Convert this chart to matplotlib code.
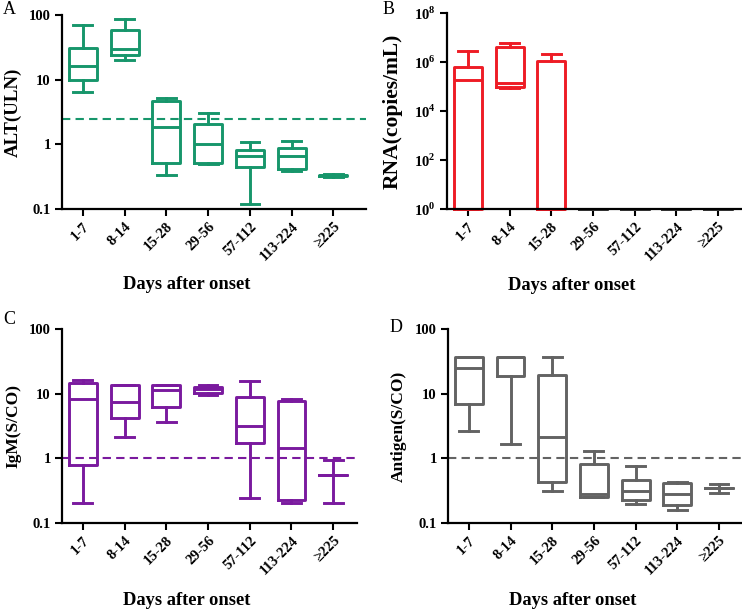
import matplotlib
matplotlib.use("Agg")
import matplotlib.pyplot as plt
from matplotlib.ticker import FixedLocator, NullLocator

plt.rcParams['font.family'] = ['Liberation Serif', 'DejaVu Serif']
plt.rcParams['mathtext.fontset'] = 'custom'
plt.rcParams['mathtext.rm'] = 'Liberation Serif:bold'
plt.rcParams['mathtext.bf'] = 'Liberation Serif:bold'

categories = ["1-7", "8-14", "15-28", "29-56", "57-112", "113-224", "≥225"]

# Panel A: ALT(ULN)
alt_whislo = [6.5, 20.2, 0.33, 0.50, 0.119, 0.39, 0.315]
alt_q1     = [9.8, 23.8, 0.51, 0.51, 0.44, 0.41, 0.32]
alt_med    = [16.5, 29.5, 1.85, 1.0, 0.65, 0.665, 0.33]
alt_q3     = [31.0, 58.7, 4.6, 2.07, 0.82, 0.87, 0.34]
alt_whishi = [70.0, 86.7, 5.2, 3.1, 1.1, 1.12, 0.345]
alt_cutoff = 2.5

# Panel B: RNA(copies/mL)
rna_whislo = [1, 8.7e4, 1, 1, 1, 1, 1]
rna_q1     = [1, 9.5e4, 1, 1, 1, 1, 1]
rna_med    = [1.9e5, 1.4e5, 1, 1, 1, 1, 1]
rna_q3     = [6.0e5, 4.1e6, 1.06e6, 1, 1, 1, 1]
rna_whishi = [2.7e6, 6.0e6, 2.2e6, 1, 1, 1, 1]

# Panel C: IgM(S/CO)
igm_whislo = [0.203, 2.17, 3.6, 9.7, 0.243, 0.203, 0.203]
igm_q1     = [0.785, 4.27, 6.3, 10.2, 1.72, 0.229, 0.557]
igm_med    = [8.4, 7.5, 11.4, 11.7, 3.18, 1.42, 0.557]
igm_q3     = [14.5, 13.6, 13.4, 12.9, 9.0, 7.7, 0.557]
igm_whishi = [16.3, 13.7, 13.6, 13.6, 15.7, 8.3, 0.93]
igm_cutoff = 1.0

# Panel D: Antigen(S/CO)
ag_whislo = [2.66, 1.68, 0.318, 0.25, 0.199, 0.157, 0.29]
ag_q1     = [6.95, 19.0, 0.424, 0.252, 0.223, 0.19, 0.342]
ag_med    = [25.3, 37.4, 2.12, 0.284, 0.318, 0.28, 0.342]
ag_q3     = [37.4, 37.4, 19.5, 0.824, 0.455, 0.415, 0.342]
ag_whishi = [37.4, 37.4, 37.0, 1.32, 0.767, 0.424, 0.40]
ag_cutoff = 1.0

GREEN = "#17966b"
RED = "#ee1c25"
PURPLE = "#7a1a9e"
GRAY = "#636363"

fig = plt.figure(figsize=(7.42, 6.10), dpi=100)


def make_stats(lo, q1, med, q3, hi):
    return [dict(whislo=a, q1=b, med=c, q3=d, whishi=e, fliers=[])
            for a, b, c, d, e in zip(lo, q1, med, q3, hi)]


def panel(rect, stats, colors, ylabel, ylabel_size, yticks, yticklabels, ylim,
          xmax, cutoff, cutoff_color, letter, letter_xy, ylab_x, xlab_xy):
    ax = fig.add_axes(rect)
    positions = list(range(1, len(categories) + 1))
    for pos, st, col in zip(positions, stats, colors):
        lw = 2.1
        art = ax.bxp([st], positions=[pos], widths=0.67, capwidths=[0.45],
                     showfliers=False, patch_artist=False,
                     boxprops=dict(color=col, linewidth=lw),
                     whiskerprops=dict(color=col, linewidth=lw),
                     capprops=dict(color=col, linewidth=lw),
                     medianprops=dict(color=col, linewidth=lw),
                     manage_ticks=False)
        for k in art:
            for a in art[k]:
                a.set_clip_on(False)
                a.set_zorder(2)
    ax.set_yscale('log')
    ax.set_ylim(*ylim)
    ax.set_xlim(0.5, xmax)
    ax.yaxis.set_major_locator(FixedLocator(yticks))
    ax.yaxis.set_minor_locator(NullLocator())
    ax.set_yticklabels(yticklabels, fontsize=10.5, fontweight='bold')
    ax.set_xticks(positions)
    ax.set_xticklabels(categories, rotation=45, ha='right',
                       rotation_mode='anchor', fontsize=10.5, fontweight='bold')
    ax.spines['top'].set_visible(False)
    ax.spines['right'].set_visible(False)
    for s in ('left', 'bottom'):
        ax.spines[s].set_linewidth(1.6)
        ax.spines[s].set_zorder(3)
    ax.tick_params(direction='out', length=5, width=1.5, pad=3)
    if cutoff is not None:
        ax.axhline(cutoff, color=cutoff_color, linestyle=(0, (4, 2.5)),
                   linewidth=1.5, zorder=1, clip_on=False)
    ax.set_ylabel(ylabel, fontsize=ylabel_size, fontweight='bold')
    ax.yaxis.set_label_coords(ylab_x, 0.5)
    ax.yaxis.label.set_va('center')
    ax.set_xlabel("Days after onset", fontsize=13.3, fontweight='bold')
    ax.xaxis.set_label_coords(*xlab_xy)
    ax.xaxis.label.set_va('center')
    fig.text(letter_xy[0], letter_xy[1], letter, fontsize=13,
             ha='left', va='center')
    return ax


W, H = 742.0, 610.0

panel([62 / W, 1 - 209 / H, 304 / W, 194 / H],
      make_stats(alt_whislo, alt_q1, alt_med, alt_q3, alt_whishi),
      [GREEN] * 7, "ALT(ULN)", 13.6, [0.1, 1, 10, 100],
      ["0.1", "1", "10", "100"],
      (0.1, 100), 7.78, alt_cutoff, GREEN, "A", (3 / W, 1 - 10 / H),
      -0.161, (0.41, -0.39))

rna_colors = [RED, RED, RED, "#3a3a3a", "#3a3a3a", "#3a3a3a", "#3a3a3a"]
panel([447 / W, 1 - 209 / H, 294 / W, 196 / H],
      make_stats(rna_whislo, rna_q1, rna_med, rna_q3, rna_whishi),
      rna_colors, "RNA(copies/mL)", 15.5, [1, 1e2, 1e4, 1e6, 1e8],
      [r"$10^{0}$", r"$10^{2}$", r"$10^{4}$", r"$10^{6}$", r"$10^{8}$"],
      (1, 1e8), 7.55, None, None, "B", (383 / W, 1 - 9 / H),
      -0.184, (0.425, -0.39))

panel([62 / W, 1 - 523 / H, 295 / W, 194 / H],
      make_stats(igm_whislo, igm_q1, igm_med, igm_q3, igm_whishi),
      [PURPLE] * 7, "IgM(S/CO)", 12.5, [0.1, 1, 10, 100],
      ["0.1", "1", "10", "100"],
      (0.1, 100), 7.57, igm_cutoff, PURPLE, "C", (3 / W, 1 - 320 / H),
      -0.166, (0.424, -0.397))

panel([448 / W, 1 - 523 / H, 293 / W, 194 / H],
      make_stats(ag_whislo, ag_q1, ag_med, ag_q3, ag_whishi),
      [GRAY] * 7, "Antigen(S/CO)", 12.5, [0.1, 1, 10, 100],
      ["0.1", "1", "10", "100"],
      (0.1, 100), 7.53, ag_cutoff, GRAY, "D", (390 / W, 1 - 328 / H),
      -0.167, (0.427, -0.397))

fig.savefig("out.png", dpi=100)
